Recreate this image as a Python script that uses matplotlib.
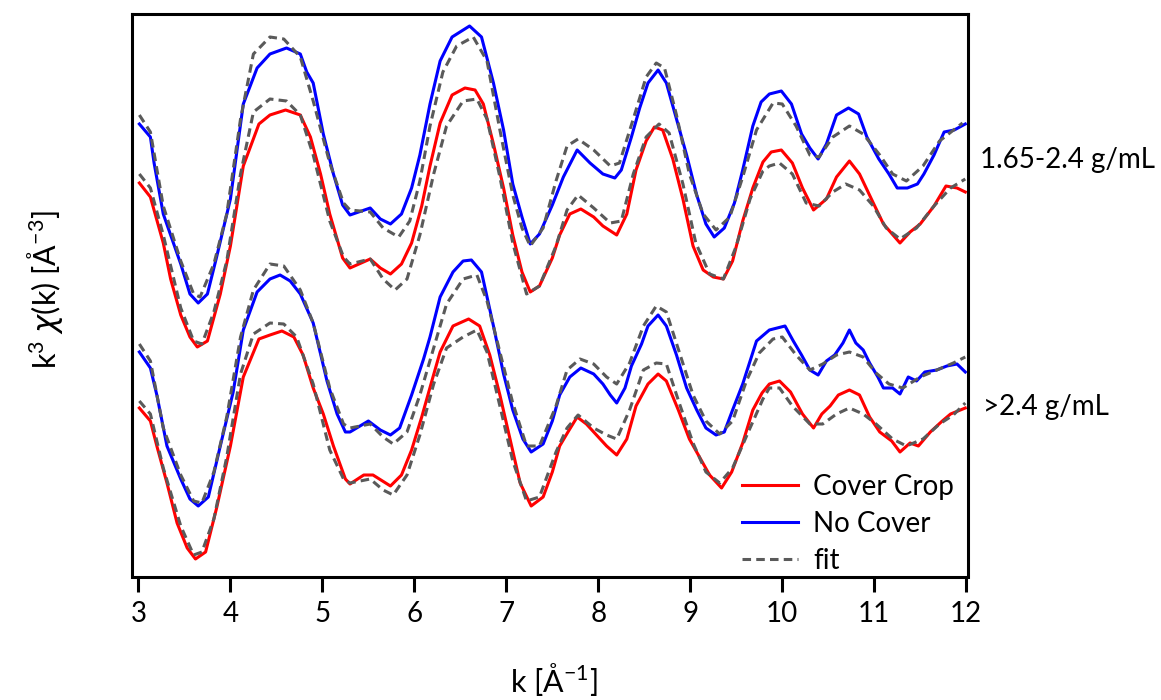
import matplotlib
matplotlib.use("Agg")
import matplotlib.pyplot as plt

# =========================
# data (arbitrary offset units)
# =========================
# 1.65-2.4 g/mL, No Cover
k_bu = [3.01, 3.13, 3.17, 3.27, 3.46, 3.56, 3.65, 3.75, 3.85, 4.00,
        4.14, 4.29, 4.43, 4.61, 4.76, 4.83, 4.90, 5.01, 5.12, 5.22,
        5.30, 5.52, 5.63, 5.74, 5.86, 5.97, 6.06, 6.17, 6.28, 6.41,
        6.60, 6.73, 6.86, 6.97, 7.07, 7.17, 7.26, 7.36, 7.50, 7.62,
        7.77, 7.91, 8.05, 8.18, 8.25, 8.36, 8.45, 8.54, 8.65, 8.74,
        8.85, 8.96, 9.07, 9.17, 9.26, 9.37, 9.48, 9.57, 9.68, 9.77,
        9.86, 9.99, 10.10, 10.21, 10.30, 10.39, 10.48, 10.59, 10.72, 10.83,
        10.92, 11.05, 11.16, 11.25, 11.36, 11.47, 11.54, 11.65, 11.76, 11.87,
        11.99]
y_bu = [45.3, 44.0, 41.4, 36.3, 31.3, 28.3, 27.4, 28.3, 32.0, 37.8,
        47.3, 50.9, 52.3, 52.9, 52.3, 50.5, 49.4, 44.3, 40.3, 37.2,
        36.2, 36.9, 35.8, 35.3, 36.3, 38.9, 42.2, 47.3, 51.6, 54.0,
        55.1, 54.0, 49.4, 44.7, 39.3, 36.0, 33.3, 34.3, 37.2, 40.0,
        42.7, 41.4, 40.3, 39.9, 40.7, 44.0, 46.9, 49.4, 50.7, 49.4,
        45.8, 42.2, 38.2, 35.3, 34.0, 34.9, 37.4, 40.7, 45.1, 47.5,
        48.3, 48.6, 47.3, 44.3, 42.9, 41.8, 43.3, 46.2, 46.9, 46.3,
        44.0, 41.8, 40.3, 38.9, 38.9, 39.3, 40.3, 42.2, 44.5, 44.7,
        45.3]
k_bu_fit = [3.01, 3.13, 3.27, 3.46, 3.60, 3.67, 3.82, 3.96, 4.11, 4.25,
            4.43, 4.58, 4.76, 4.90, 5.08, 5.23, 5.30, 5.52, 5.66, 5.83,
            5.95, 6.06, 6.17, 6.31, 6.46, 6.64, 6.79, 6.93, 7.07, 7.17,
            7.26, 7.40, 7.54, 7.66, 7.78, 7.95, 8.13, 8.23, 8.38, 8.52,
            8.63, 8.72, 8.85, 8.99, 9.14, 9.28, 9.43, 9.57, 9.72, 9.90,
            10.00, 10.15, 10.30, 10.40, 10.55, 10.73, 10.88, 11.06, 11.20, 11.35,
            11.53, 11.71, 11.96]
y_bu_fit = [46.2, 44.5, 37.1, 31.6, 28.3, 28.0, 31.3, 36.3, 45.8, 52.3,
            54.0, 53.8, 52.0, 47.6, 41.4, 37.4, 36.7, 36.5, 34.9, 34.0,
            35.6, 39.6, 45.1, 50.5, 53.1, 54.0, 51.6, 44.7, 38.2, 34.9,
            33.1, 34.9, 39.6, 43.1, 43.8, 42.7, 41.1, 41.4, 45.8, 50.0,
            51.4, 50.9, 46.2, 40.3, 36.3, 34.7, 36.0, 40.0, 44.7, 47.4,
            47.3, 45.1, 42.2, 42.0, 44.0, 45.1, 44.3, 42.2, 40.3, 39.6,
            41.1, 43.6, 45.4]

# 1.65-2.4 g/mL, Cover Crop
k_ru = [3.01, 3.13, 3.27, 3.35, 3.46, 3.56, 3.64, 3.75, 3.89, 4.00,
        4.14, 4.31, 4.43, 4.60, 4.76, 4.87, 4.98, 5.08, 5.22, 5.30,
        5.52, 5.63, 5.74, 5.86, 5.97, 6.08, 6.17, 6.28, 6.41, 6.55,
        6.66, 6.75, 6.86, 6.97, 7.07, 7.17, 7.26, 7.36, 7.50, 7.58,
        7.69, 7.81, 7.95, 8.05, 8.20, 8.31, 8.41, 8.52, 8.61, 8.70,
        8.81, 8.92, 9.03, 9.14, 9.25, 9.36, 9.46, 9.57, 9.68, 9.79,
        9.88, 9.99, 10.11, 10.22, 10.34, 10.48, 10.59, 10.73, 10.84, 10.99,
        11.10, 11.28, 11.39, 11.50, 11.65, 11.78, 11.90, 11.99]
y_ru = [39.4, 38.0, 33.4, 29.8, 26.2, 24.0, 23.0, 23.6, 28.3, 33.1,
        41.1, 45.3, 46.2, 46.7, 46.2, 44.0, 40.3, 36.3, 31.9, 30.9,
        31.8, 30.9, 30.3, 31.3, 33.4, 37.1, 41.1, 45.4, 48.2, 48.9,
        48.7, 47.3, 43.3, 38.9, 34.2, 30.5, 28.5, 29.1, 31.9, 34.2,
        36.3, 36.8, 36.0, 35.1, 34.2, 36.3, 40.7, 43.6, 45.0, 44.7,
        41.8, 37.8, 33.1, 30.7, 30.0, 29.8, 31.6, 35.6, 38.9, 41.5,
        42.5, 42.7, 41.4, 38.9, 36.7, 37.8, 40.0, 41.6, 40.3, 37.4,
        35.3, 33.4, 34.5, 35.3, 37.1, 39.1, 38.9, 38.5]
k_ru_fit = [3.01, 3.13, 3.27, 3.46, 3.60, 3.69, 3.82, 3.96, 4.11, 4.25,
            4.43, 4.61, 4.76, 4.90, 5.08, 5.23, 5.30, 5.52, 5.66, 5.79,
            5.92, 6.06, 6.21, 6.35, 6.53, 6.68, 6.79, 6.93, 7.07, 7.22,
            7.36, 7.54, 7.66, 7.78, 7.95, 8.13, 8.25, 8.38, 8.52, 8.66,
            8.77, 8.92, 9.06, 9.21, 9.36, 9.50, 9.65, 9.79, 9.86, 9.97,
            10.11, 10.26, 10.40, 10.55, 10.69, 10.84, 10.99, 11.13, 11.28, 11.46,
            11.65, 11.83, 11.99]
y_ru_fit = [40.3, 38.9, 34.2, 26.9, 23.6, 23.3, 26.5, 31.6, 40.3, 46.5,
            47.8, 47.6, 46.2, 42.2, 35.6, 32.0, 31.3, 31.8, 29.8, 28.7,
            29.8, 34.2, 40.3, 45.1, 47.6, 47.8, 45.8, 40.0, 33.4, 28.3,
            29.1, 33.1, 36.7, 38.2, 36.9, 35.4, 35.6, 40.3, 44.0, 45.3,
            44.4, 39.3, 33.4, 30.3, 29.8, 33.1, 37.8, 40.6, 41.1, 41.4,
            40.3, 37.4, 37.1, 38.5, 39.3, 38.7, 37.1, 34.9, 33.8, 34.9,
            37.1, 38.9, 39.8]

# >2.4 g/mL, No Cover
k_bl = [3.01, 3.13, 3.20, 3.31, 3.46, 3.56, 3.65, 3.76, 3.89, 4.03,
        4.14, 4.29, 4.43, 4.54, 4.65, 4.76, 4.90, 5.05, 5.16, 5.25,
        5.30, 5.50, 5.63, 5.74, 5.84, 5.97, 6.10, 6.17, 6.28, 6.42,
        6.53, 6.62, 6.73, 6.86, 6.97, 7.07, 7.18, 7.27, 7.40, 7.50,
        7.58, 7.69, 7.81, 7.95, 8.05, 8.13, 8.20, 8.29, 8.36, 8.47,
        8.54, 8.65, 8.74, 8.85, 8.96, 9.07, 9.17, 9.28, 9.37, 9.46,
        9.57, 9.72, 9.86, 10.03, 10.12, 10.21, 10.30, 10.39, 10.48, 10.57,
        10.66, 10.73, 10.80, 10.88, 10.95, 11.04, 11.10, 11.20, 11.28, 11.37,
        11.46, 11.55, 11.68, 11.79, 11.90, 11.99]
y_bl = [22.5, 20.9, 18.2, 13.1, 9.8, 7.8, 7.1, 8.0, 13.1, 18.5,
        24.7, 28.5, 29.8, 30.2, 29.6, 28.3, 25.4, 19.6, 16.3, 14.5,
        14.5, 15.6, 14.7, 14.2, 14.9, 18.2, 21.8, 24.0, 28.0, 30.5,
        31.6, 31.7, 30.5, 25.1, 20.3, 16.7, 13.8, 12.5, 13.3, 15.6,
        18.2, 20.0, 20.9, 20.3, 19.3, 18.2, 17.4, 18.9, 21.1, 23.3,
        25.1, 26.2, 25.1, 22.2, 18.9, 16.7, 14.9, 14.2, 14.5, 16.7,
        19.3, 23.6, 24.7, 25.1, 23.6, 22.2, 20.7, 20.2, 21.6, 22.2,
        23.4, 24.7, 23.4, 22.7, 21.4, 20.0, 18.9, 18.9, 18.3, 20.0,
        19.6, 20.5, 20.7, 21.1, 21.3, 20.5]
k_bl_fit = [3.01, 3.13, 3.27, 3.46, 3.60, 3.69, 3.82, 3.96, 4.11, 4.25,
            4.43, 4.58, 4.76, 4.90, 5.08, 5.23, 5.30, 5.52, 5.66, 5.77,
            5.92, 6.06, 6.21, 6.35, 6.53, 6.68, 6.79, 6.93, 7.07, 7.22,
            7.36, 7.54, 7.66, 7.80, 7.95, 8.09, 8.20, 8.34, 8.49, 8.63,
            8.74, 8.88, 9.03, 9.17, 9.32, 9.46, 9.61, 9.75, 9.90, 10.00,
            10.15, 10.30, 10.44, 10.59, 10.73, 10.88, 11.02, 11.16, 11.31, 11.50,
            11.68, 11.86, 11.99]
y_bl_fit = [23.3, 21.6, 14.9, 10.2, 7.6, 7.4, 10.5, 16.0, 24.0, 28.7,
            31.3, 31.1, 28.7, 25.4, 18.9, 15.3, 14.9, 15.3, 14.0, 13.3,
            14.5, 18.2, 22.9, 27.3, 29.8, 30.2, 27.6, 22.5, 17.4, 13.1,
            13.1, 17.1, 20.7, 21.8, 21.3, 20.0, 19.3, 21.4, 25.1, 27.1,
            26.5, 22.5, 18.2, 15.6, 14.3, 15.6, 19.6, 22.4, 23.8, 24.0,
            22.2, 20.7, 21.3, 22.2, 22.5, 22.0, 20.4, 19.3, 18.9, 20.0,
            20.7, 21.4, 22.0]

# >2.4 g/mL, Cover Crop
k_rl = [3.01, 3.13, 3.20, 3.31, 3.42, 3.53, 3.62, 3.73, 3.85, 4.00,
        4.14, 4.31, 4.43, 4.56, 4.69, 4.79, 4.90, 5.01, 5.12, 5.25,
        5.30, 5.45, 5.55, 5.74, 5.86, 5.97, 6.08, 6.19, 6.28, 6.42,
        6.59, 6.71, 6.82, 6.93, 7.04, 7.15, 7.27, 7.40, 7.50, 7.58,
        7.67, 7.77, 7.87, 7.98, 8.09, 8.20, 8.31, 8.41, 8.54, 8.65,
        8.74, 8.87, 8.99, 9.10, 9.21, 9.34, 9.45, 9.57, 9.68, 9.78,
        9.86, 9.97, 10.09, 10.22, 10.34, 10.43, 10.52, 10.61, 10.73, 10.84,
        10.95, 11.06, 11.19, 11.28, 11.39, 11.48, 11.61, 11.74, 11.83, 11.99]
y_rl = [16.9, 15.6, 13.1, 9.4, 5.4, 2.9, 1.8, 2.5, 6.9, 13.1,
        20.0, 23.8, 24.2, 24.6, 24.0, 22.2, 18.9, 16.3, 13.1, 9.8,
        9.3, 10.2, 10.2, 9.1, 10.2, 12.7, 16.0, 19.6, 22.5, 25.1,
        25.8, 25.1, 22.2, 18.2, 13.8, 9.4, 7.1, 8.0, 10.5, 13.1,
        14.5, 16.0, 15.3, 14.2, 13.1, 12.2, 13.8, 17.1, 19.3, 20.3,
        19.6, 16.7, 13.8, 12.0, 10.2, 8.9, 10.5, 13.4, 16.7, 18.4,
        19.3, 19.6, 18.5, 16.3, 14.9, 16.3, 17.1, 18.2, 18.7, 18.2,
        16.0, 14.5, 13.6, 12.5, 13.4, 13.1, 14.5, 15.6, 16.3, 16.9]
k_rl_fit = [3.01, 3.13, 3.27, 3.46, 3.60, 3.69, 3.82, 3.96, 4.11, 4.25,
            4.43, 4.58, 4.72, 4.90, 5.08, 5.23, 5.30, 5.52, 5.66, 5.77,
            5.92, 6.06, 6.21, 6.35, 6.53, 6.68, 6.79, 6.93, 7.07, 7.22,
            7.36, 7.54, 7.66, 7.78, 7.95, 8.09, 8.20, 8.34, 8.49, 8.63,
            8.74, 8.88, 9.03, 9.17, 9.32, 9.46, 9.65, 9.79, 9.86, 9.97,
            10.11, 10.30, 10.44, 10.59, 10.73, 10.88, 11.02, 11.20, 11.35, 11.53,
            11.71, 11.86, 11.99]
y_rl_fit = [17.6, 16.3, 10.9, 5.1, 2.2, 2.5, 5.8, 12.0, 20.3, 24.3,
            25.4, 25.3, 24.0, 19.3, 12.7, 9.8, 9.4, 9.8, 8.7, 8.2,
            10.2, 14.2, 19.3, 22.9, 24.0, 24.7, 22.5, 17.1, 11.6, 7.6,
            8.0, 12.5, 14.9, 16.2, 14.9, 14.2, 13.8, 16.7, 20.7, 21.4,
            21.3, 17.4, 13.4, 10.5, 9.4, 10.9, 14.9, 17.8, 18.9, 18.9,
            17.1, 15.3, 15.3, 16.3, 16.9, 16.3, 15.3, 13.8, 13.1, 13.8,
            15.3, 16.2, 17.4]

x_ticks = [3, 4, 5, 6, 7, 8, 9, 10, 11, 12]
labels_right = ["1.65-2.4 g/mL", ">2.4 g/mL"]

# =========================
# style
# =========================
plt.rcParams["font.family"] = ["Lato", "DejaVu Sans"]
plt.rcParams["mathtext.fontset"] = "dejavusans"
RED = "#ff0000"
BLUE = "#0000ff"
GRAY = "#5a5a5a"
LW = 2.2
FS = 20

fig = plt.figure(figsize=(11.61, 7), dpi=100)
ax = fig.add_axes([0.1137, 0.18, 0.7201, 0.80])

ax.plot(k_ru, y_ru, color=RED, lw=LW, label="Cover Crop")
ax.plot(k_bu, y_bu, color=BLUE, lw=LW, label="No Cover")
ax.plot(k_rl, y_rl, color=RED, lw=LW)
ax.plot(k_bl, y_bl, color=BLUE, lw=LW)

fit_kw = dict(color=GRAY, lw=LW, linestyle=(0, (2.8, 1.7)))
ax.plot(k_bu_fit, y_bu_fit, label="fit", **fit_kw)
ax.plot(k_ru_fit, y_ru_fit, **fit_kw)
ax.plot(k_bl_fit, y_bl_fit, **fit_kw)
ax.plot(k_rl_fit, y_rl_fit, **fit_kw)

ax.set_xlim(2.93, 12.02)
ax.set_ylim(0.3, 56.3)
ax.set_xticks(x_ticks)
ax.set_yticks([])
ax.tick_params(axis="x", direction="out", length=10.8, width=2.2,
               pad=6.5, labelsize=FS)
for s in ax.spines.values():
    s.set_linewidth(2.2)
ax.spines["bottom"].set_position(("outward", 2.2))

leg = ax.legend(loc="lower left", bbox_to_anchor=(0.7297, 0.0),
                frameon=False, fontsize=FS, handlelength=2.0,
                handletextpad=0.55, labelspacing=0.4, borderpad=0.0,
                borderaxespad=0.0)

fig.text(980 / 1161, 1 - 160 / 700, labels_right[0], fontsize=FS,
         ha="left", va="center")
fig.text(983 / 1161, 1 - 407 / 700, labels_right[1], fontsize=FS,
         ha="left", va="center")

fig.text(45 / 1161, 1 - 290 / 700,
         r"k$^{\mathregular{3}}$ $\chi$(k) [Å$^{\mathregular{-3}}$]",
         fontsize=FS + 2, rotation=90, ha="center", va="center")
fig.text(554 / 1161, 2 / 700, r"k [Å$^{\mathregular{-1}}$]",
         fontsize=FS + 2, ha="center", va="bottom")

fig.savefig("out.png", dpi=100)
